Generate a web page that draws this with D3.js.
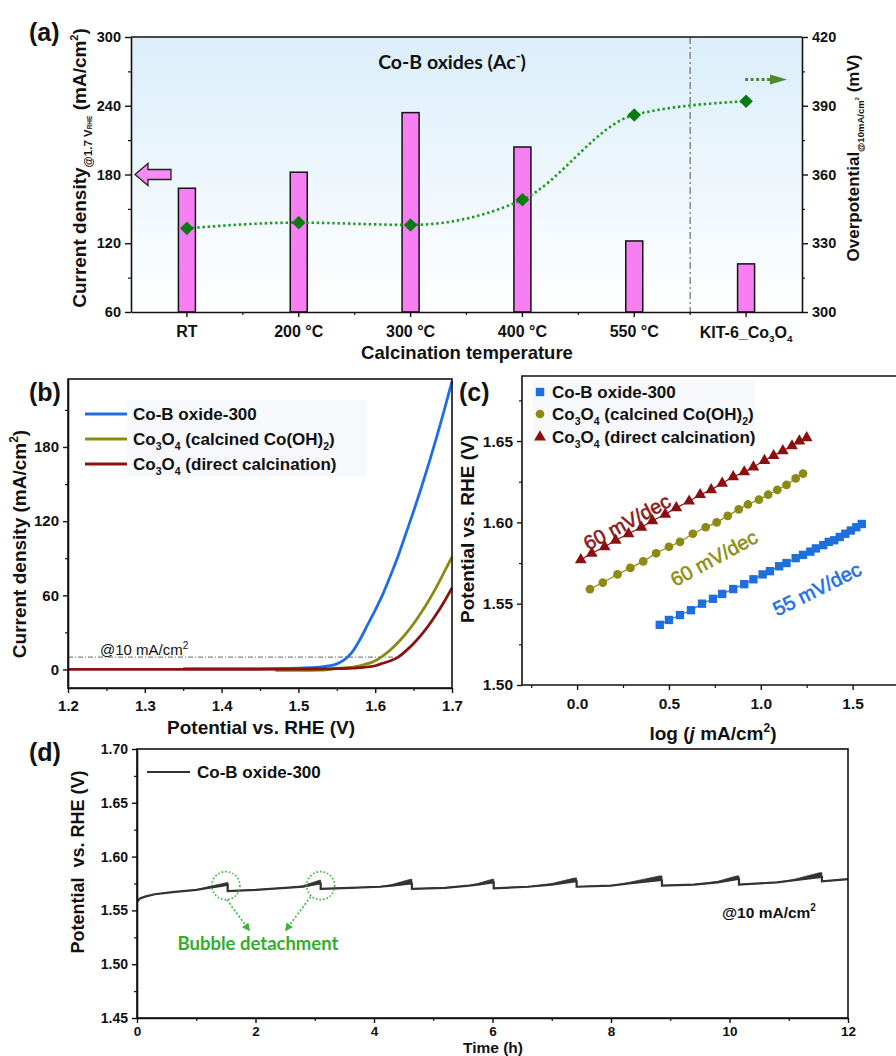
<!DOCTYPE html>
<html>
<head>
<meta charset="utf-8">
<script src="https://cdn.jsdelivr.net/npm/d3@7"></script>
<style>
  body { margin: 0; background: #fff; }
  svg text { font-family: "Liberation Sans", Arial, sans-serif; font-weight: bold; fill: #111; }
</style>
</head>
<body>
<svg id="fig" width="896" height="1056"></svg>
<script>
// ---- (a) calcination series
const calcCats = ["RT", "200 °C", "300 °C", "400 °C", "550 °C", "KIT-6_Co3O4"];
const currentAt17V = [168, 182, 234, 204, 122, 102];
const overpotential = [336.5, 339, 338, 349, 386, 392];
const leftTicksA = [60, 120, 180, 240, 300];
const rightTicksA = [300, 330, 360, 390, 420];

// ---- (b) LSV curves
const lsvBluePot = [1.35, 1.45, 1.50, 1.53, 1.55, 1.56, 1.57, 1.58, 1.59, 1.60, 1.61, 1.62, 1.63, 1.64, 1.65, 1.66, 1.67, 1.68, 1.69, 1.70];
const lsvBlueCur = [0.6, 0.7, 1.0, 2, 4.5, 8, 14, 24, 36, 48, 61, 76, 92, 110, 128, 147, 167, 188, 210, 233];
const lsvOlivePot = [1.47, 1.50, 1.53, 1.55, 1.58, 1.60, 1.61, 1.62, 1.63, 1.64, 1.65, 1.66, 1.67, 1.68, 1.69, 1.70];
const lsvOliveCur = [-0.8, -0.8, -0.5, 0.8, 3, 7, 11, 16, 22, 29, 37, 46, 56, 67, 79, 91];
const lsvRedPot = [1.20, 1.30, 1.40, 1.50, 1.55, 1.58, 1.60, 1.61, 1.62, 1.63, 1.64, 1.65, 1.66, 1.67, 1.68, 1.69, 1.70];
const lsvRedCur = [0, 0, 0, 0.3, 0.6, 1.5, 3, 5, 7, 10, 15, 21, 28, 36, 45, 55, 66];

// ---- (c) Tafel points
const tafBlueX = [0.45, 0.50, 0.56, 0.62, 0.68, 0.74, 0.79, 0.85, 0.91, 0.96, 1.01, 1.05, 1.10, 1.14, 1.19, 1.23, 1.27, 1.30, 1.34, 1.37, 1.40, 1.43, 1.46, 1.49, 1.52, 1.55];
const tafBlueY = [1.537, 1.540, 1.543, 1.546, 1.550, 1.553, 1.556, 1.559, 1.562, 1.565, 1.568, 1.570, 1.573, 1.575, 1.578, 1.580, 1.582, 1.584, 1.586, 1.588, 1.589, 1.591, 1.593, 1.595, 1.597, 1.599];
const tafOliveX = [0.07, 0.14, 0.22, 0.29, 0.36, 0.43, 0.50, 0.56, 0.63, 0.70, 0.76, 0.82, 0.88, 0.93, 0.99, 1.04, 1.09, 1.14, 1.19, 1.23];
const tafOliveY = [1.559, 1.563, 1.568, 1.572, 1.576, 1.581, 1.585, 1.588, 1.593, 1.597, 1.600, 1.604, 1.608, 1.611, 1.614, 1.617, 1.620, 1.623, 1.627, 1.630];
const tafRedX = [0.02, 0.08, 0.15, 0.21, 0.28, 0.35, 0.41, 0.48, 0.54, 0.61, 0.67, 0.73, 0.79, 0.85, 0.91, 0.96, 1.02, 1.07, 1.12, 1.17, 1.21, 1.25];
const tafRedY = [1.577, 1.581, 1.585, 1.589, 1.593, 1.597, 1.601, 1.605, 1.609, 1.613, 1.617, 1.620, 1.624, 1.628, 1.631, 1.634, 1.638, 1.641, 1.644, 1.647, 1.650, 1.652];

// ---- (d) chronopotentiometry
const stabT = [0, 0.05, 0.15, 0.3, 0.6, 1.0, 1.2, 1.45, 1.53, 1.53, 2.0, 2.5, 2.8, 3.08, 3.10, 3.10, 3.6, 4.1, 4.3, 4.62, 4.64, 4.64, 5.2, 5.6, 5.75, 6.0, 6.02, 6.02, 6.6, 7.0, 7.38, 7.42, 7.42, 8.0, 8.3, 8.82, 8.86, 8.86, 9.4, 9.8, 10.12, 10.16, 10.16, 10.8, 11.1, 11.52, 11.56, 11.56, 12.0];
const stabV = [1.558, 1.561, 1.563, 1.565, 1.567, 1.569, 1.571, 1.573, 1.574, 1.568, 1.569, 1.571, 1.572, 1.575, 1.575, 1.570, 1.571, 1.572, 1.573, 1.575, 1.575, 1.570, 1.571, 1.573, 1.574, 1.576, 1.576, 1.5705, 1.572, 1.574, 1.577, 1.577, 1.572, 1.573, 1.575, 1.578, 1.578, 1.573, 1.574, 1.576, 1.579, 1.579, 1.574, 1.576, 1.578, 1.581, 1.581, 1.577, 1.579];
const stabNoise = [0, 0, 0, 0, 0, 0, 0.001, 0.002, 0.002, 0, 0, 0, 0.001, 0.003, 0.003, 0, 0, 0, 0.001, 0.004, 0.004, 0, 0, 0, 0.001, 0.003, 0.003, 0, 0, 0.001, 0.003, 0.003, 0, 0, 0.001, 0.004, 0.004, 0, 0, 0.001, 0.003, 0.003, 0, 0, 0.001, 0.004, 0.004, 0, 0];

const svg = d3.select('#fig');
const defs = svg.append('defs');

// text with sub/superscripts: parts = [text, kind, size, offset]
function rich(t, parts, base) {
  let shift = 0;
  parts.forEach(p => {
    const [s, kind, size, off] = p;
    let target = kind === 'sub' ? base * 0.3 : kind === 'sup' ? -base * 0.42 : 0;
    if (off !== undefined) target = off;
    const fs = size || ((kind === 'sub' || kind === 'sup') ? base * 0.62 : base);
    t.append('tspan')
      .attr('dy', target - shift)
      .style('font-size', fs + 'px')
      .style('font-style', kind === 'it' ? 'italic' : null)
      .text(s);
    shift = target;
  });
  return t;
}

function styleAxis(g, fs) {
  g.select('.domain').attr('stroke', '#111').attr('stroke-width', 1.6);
  g.selectAll('.tick line').attr('stroke', '#111').attr('stroke-width', 1.4);
  g.selectAll('.tick text').style('font-size', fs + 'px').attr('fill', '#111');
}
function minor(g, axisFn, scale, vals, size) {
  const m = g.append('g').call(axisFn(scale).tickValues(vals).tickSize(size).tickFormat(''));
  m.select('.domain').remove();
  m.selectAll('.tick line').attr('stroke', '#111').attr('stroke-width', 1.2);
  return m;
}
function panelLabel(x, y, s) {
  svg.append('text').attr('x', x).attr('y', y).style('font-size', '25px').text(s);
}

// ================= (a) =================
const A = { l: 131, r: 802, t: 37, b: 312 };
const xa = d3.scaleBand().domain(calcCats).range([A.l, A.r]);
const yaL = d3.scaleLinear().domain([60, 300]).range([A.b, A.t]);
const yaR = d3.scaleLinear().domain([300, 420]).range([A.b, A.t]);
const cx = c => xa(c) + xa.bandwidth() / 2;

const grad = defs.append('linearGradient').attr('id', 'bgA')
  .attr('x1', 0).attr('x2', 0).attr('y1', 0).attr('y2', 1);
grad.append('stop').attr('offset', '0%').attr('stop-color', '#dbeefa');
grad.append('stop').attr('offset', '100%').attr('stop-color', '#ffffff');

const ga = svg.append('g');
ga.append('rect').attr('x', A.l).attr('y', A.t).attr('width', A.r - A.l).attr('height', A.b - A.t)
  .attr('fill', 'url(#bgA)');

// separator before reference sample
ga.append('line')
  .attr('x1', xa(calcCats[5])).attr('x2', xa(calcCats[5]))
  .attr('y1', A.t).attr('y2', A.b)
  .attr('stroke', '#777').attr('stroke-width', 1.3).attr('stroke-dasharray', '7,3,2,3');

ga.selectAll('.bar').data(calcCats).enter().append('rect')
  .attr('x', c => cx(c) - 8.5)
  .attr('width', 17)
  .attr('y', (c, i) => yaL(currentAt17V[i]))
  .attr('height', (c, i) => A.b - yaL(currentAt17V[i]))
  .attr('fill', '#f77ff3').attr('stroke', '#111').attr('stroke-width', 1.5);

const opLine = d3.line().x((d, i) => cx(calcCats[i])).y(d => yaR(d)).curve(d3.curveMonotoneX);
ga.append('path').datum(overpotential).attr('d', opLine)
  .attr('fill', 'none').attr('stroke', '#1d9a1d').attr('stroke-width', 2.6)
  .attr('stroke-dasharray', '2.4,2.8');
ga.selectAll('.dia').data(overpotential).enter().append('path')
  .attr('d', d3.symbol(d3.symbolSquare, 92))
  .attr('transform', (d, i) => `translate(${cx(calcCats[i])},${yaR(d)}) rotate(45)`)
  .attr('fill', '#0c7a12');

// axes
const axLA = ga.append('g').attr('transform', `translate(${A.l},0)`)
  .call(d3.axisLeft(yaL).tickValues(leftTicksA).tickSize(6).tickPadding(4).tickSizeOuter(0));
styleAxis(axLA, 14.5);
minor(axLA, d3.axisLeft, yaL, [90, 150, 210, 270], 3);

const axRA = ga.append('g').attr('transform', `translate(${A.r},0)`)
  .call(d3.axisRight(yaR).tickValues(rightTicksA).tickSize(6).tickPadding(4).tickSizeOuter(0));
styleAxis(axRA, 14.5);
minor(axRA, d3.axisRight, yaR, [315, 345, 375, 405], 3);

const axBA = ga.append('g').attr('transform', `translate(0,${A.b})`)
  .call(d3.axisBottom(xa).tickSize(5).tickPadding(9).tickSizeOuter(0));
styleAxis(axBA, 16);
axBA.selectAll('.tick text').each(function (d) {
  if (d === calcCats[5]) {
    const el = d3.select(this);
    const y0 = +el.attr('y');
    el.text('').attr('dy', null).attr('y', y0 + 11.5);
    rich(el, [['KIT-6_Co', 'n'], ['3', 'sub'], ['O', 'n'], ['4', 'sub']], 16);
  }
});
ga.selectAll('.mtick').data(d3.range(1, calcCats.length)).enter().append('line')
  .attr('x1', i => A.l + xa.step() * i).attr('x2', i => A.l + xa.step() * i)
  .attr('y1', A.b).attr('y2', A.b + 3).attr('stroke', '#111').attr('stroke-width', 1.2);
ga.append('line').attr('x1', A.l).attr('x2', A.r).attr('y1', A.t).attr('y2', A.t)
  .attr('stroke', '#111').attr('stroke-width', 1.6);

// arrows
const ay = yaL(180);
ga.append('polygon')
  .attr('points', [[0, 0], [13, -11], [13, -5], [36, -5], [36, 5], [13, 5], [13, 11]]
    .map(p => [A.l + 4 + p[0], ay + p[1]].join(',')).join(' '))
  .attr('fill', '#f78bf1').attr('stroke', '#222').attr('stroke-width', 1.3);
const gy = yaR(401.5);
ga.append('line').attr('x1', cx(calcCats[5]) - 1).attr('x2', A.r - 32).attr('y1', gy).attr('y2', gy)
  .attr('stroke', '#4c8a2c').attr('stroke-width', 3).attr('stroke-dasharray', '3,2.5');
ga.append('polygon')
  .attr('points', `${A.r - 32},${gy - 5} ${A.r - 15},${gy} ${A.r - 32},${gy + 5}`)
  .attr('fill', '#4c8a2c');

// texts
rich(ga.append('text').attr('x', 452).attr('y', 69).attr('text-anchor', 'middle')
  .style('font-family', 'Lato, "Open Sans", sans-serif'),
  [['Co-B oxides (Ac', 'n'], ['-', 'sup', 13], [')', 'n']], 19.5);
ga.append('text').attr('x', 467).attr('y', 359).attr('text-anchor', 'middle')
  .style('font-size', '18.5px').text('Calcination temperature');
rich(ga.append('text').attr('transform', 'translate(86,168) rotate(-90)').attr('text-anchor', 'middle'),
  [['Current density', 'n'], ['@1.7 V', 'sub', 11.5], ['RHE', 'sub', 6.5], [' (mA/cm', 'n'], ['2', 'sup', 11], [')', 'n']], 19);
rich(ga.append('text').attr('transform', 'translate(859,158) rotate(-90)').attr('text-anchor', 'middle'),
  [['Overpotential', 'n'], ['@10mA/cm', 'sub', 9.5, 5], ['2', 'sub', 6, 0], [' (mV)', 'n']], 17);
panelLabel(29, 41, '(a)');

// ================= (b) =================
const B = { l: 68, r: 452, t: 379, b: 688 };
const xb = d3.scaleLinear().domain([1.2, 1.7]).range([B.l, B.r]);
const yb = d3.scaleLinear().domain([-15, 235]).range([B.b, B.t]);
const gb = svg.append('g');
defs.append('clipPath').attr('id', 'clipB').append('rect')
  .attr('x', B.l).attr('y', B.t - 2).attr('width', B.r - B.l + 2).attr('height', B.b - B.t + 2);

gb.append('rect').attr('x', 127).attr('y', 400).attr('width', 240).attr('height', 76).attr('fill', '#f6f8fb');

gb.append('line').attr('x1', xb(1.2)).attr('x2', xb(1.632)).attr('y1', yb(10)).attr('y2', yb(10))
  .attr('stroke', '#666').attr('stroke-width', 1).attr('stroke-dasharray', '5,2,1,2');
rich(gb.append('text').attr('x', 100).attr('y', 655).style('font-weight', 'normal').attr('fill', '#333'),
  [['@10 mA/cm', 'n'], ['2', 'sup', 10]], 15);

const lsv = [
  { pot: lsvBluePot, cur: lsvBlueCur, color: '#1f6fe0', name: [['Co-B oxide-300', 'n']] },
  { pot: lsvOlivePot, cur: lsvOliveCur, color: '#8a8a12', name: [['Co', 'n'], ['3', 'sub'], ['O', 'n'], ['4', 'sub'], [' (calcined Co(OH)', 'n'], ['2', 'sub'], [')', 'n']] },
  { pot: lsvRedPot, cur: lsvRedCur, color: '#8b1212', name: [['Co', 'n'], ['3', 'sub'], ['O', 'n'], ['4', 'sub'], [' (direct calcination)', 'n']] }
];
const lsvLine = d3.line().x(d => xb(d[0])).y(d => yb(d[1])).curve(d3.curveMonotoneX);
lsv.forEach((s, k) => {
  gb.append('path').datum(s.pot.map((p, i) => [p, s.cur[i]]))
    .attr('d', lsvLine).attr('clip-path', 'url(#clipB)')
    .attr('fill', 'none').attr('stroke', s.color).attr('stroke-width', 2.8);
  const ly = 414 + k * 25;
  gb.append('line').attr('x1', 85).attr('x2', 127).attr('y1', ly).attr('y2', ly)
    .attr('stroke', s.color).attr('stroke-width', 3);
  rich(gb.append('text').attr('x', 133).attr('y', ly + 6), s.name, 17);
});

gb.append('rect').attr('x', B.l).attr('y', B.t).attr('width', B.r - B.l).attr('height', B.b - B.t)
  .attr('fill', 'none').attr('stroke', '#111').attr('stroke-width', 1.6);
const axLB = gb.append('g').attr('transform', `translate(${B.l},0)`)
  .call(d3.axisLeft(yb).tickValues([0, 60, 120, 180]).tickSize(5).tickPadding(4).tickSizeOuter(0));
styleAxis(axLB, 15);
minor(axLB, d3.axisLeft, yb, [30, 90, 150, 210], 3);
const axBB = gb.append('g').attr('transform', `translate(0,${B.b})`)
  .call(d3.axisBottom(xb).tickValues([1.2, 1.3, 1.4, 1.5, 1.6, 1.7]).tickFormat(d3.format('.1f'))
    .tickSize(5).tickPadding(7).tickSizeOuter(0));
styleAxis(axBB, 15);
minor(axBB, d3.axisBottom, xb, [1.25, 1.35, 1.45, 1.55, 1.65], 3);
gb.append('text').attr('x', 261).attr('y', 734).attr('text-anchor', 'middle')
  .style('font-size', '19px').text('Potential vs. RHE (V)');
rich(gb.append('text').attr('transform', 'translate(26,544) rotate(-90)').attr('text-anchor', 'middle'),
  [['Current density (mA/cm', 'n'], ['2', 'sup', 12], [')', 'n']], 19);
panelLabel(29, 401, '(b)');

// ================= (c) =================
const C = { l: 522, r: 900, t: 376, b: 685 };
const xc = d3.scaleLinear().domain([-0.3, 1.758]).range([C.l, C.r]);
const yc = d3.scaleLinear().domain([1.5, 1.69]).range([C.b, C.t]);
const gc = svg.append('g');

gc.append('rect').attr('x', 533).attr('y', 380).attr('width', 222).attr('height', 65).attr('fill', '#f6f8fb');

const taf = [
  { x: tafBlueX, y: tafBlueY, color: '#1e6fdc', sym: d3.symbolSquare, size: 70, label: '55 mV/dec', lc: '#1f6fe6', lx: 817, ly: 589,
    name: [['Co-B oxide-300', 'n']] },
  { x: tafOliveX, y: tafOliveY, color: '#8c8a12', sym: d3.symbolCircle, size: 60, label: '60 mV/dec', lc: '#8f8f13', lx: 714, ly: 558,
    name: [['Co', 'n'], ['3', 'sub'], ['O', 'n'], ['4', 'sub'], [' (calcined Co(OH)', 'n'], ['2', 'sub'], [')', 'n']] },
  { x: tafRedX, y: tafRedY, color: '#8b0f0f', sym: d3.symbolTriangle, size: 60, label: '60 mV/dec', lc: '#8b1a1a', lx: 627, ly: 522,
    name: [['Co', 'n'], ['3', 'sub'], ['O', 'n'], ['4', 'sub'], [' (direct calcination)', 'n']] }
];
const legY = [392, 414, 437];
taf.forEach((s, k) => {
  const pts = s.x.map((v, i) => [v, s.y[i]]);
  gc.append('path').datum(pts).attr('d', d3.line().x(d => xc(d[0])).y(d => yc(d[1])))
    .attr('fill', 'none').attr('stroke', s.color).attr('stroke-width', 1.2);
  gc.selectAll(null).data(pts).enter().append('path')
    .attr('d', d3.symbol(s.sym, s.size))
    .attr('transform', d => `translate(${xc(d[0])},${yc(d[1])})`)
    .attr('fill', s.color);
  const n = pts.length - 1;
  const ang = Math.atan2(yc(pts[n][1]) - yc(pts[0][1]), xc(pts[n][0]) - xc(pts[0][0])) * 180 / Math.PI;
  gc.append('text').attr('transform', `translate(${s.lx},${s.ly}) rotate(${ang})`)
    .attr('text-anchor', 'middle').attr('dy', '0.35em')
    .style('font-size', '20px').style('font-weight', 'normal').style('fill', s.lc)
    .style('stroke', s.lc).style('stroke-width', 0.6)
    .text(s.label);
  gc.append('path').attr('d', d3.symbol(s.sym, s.size))
    .attr('transform', `translate(540,${legY[k]})`).attr('fill', s.color);
  rich(gc.append('text').attr('x', 552).attr('y', legY[k] + 6), s.name, 17);
});

gc.append('path').attr('d', `M${C.r},${C.t}H${C.l}V${C.b}H${C.r}`)
  .attr('fill', 'none').attr('stroke', '#111').attr('stroke-width', 1.6);
const axLC = gc.append('g').attr('transform', `translate(${C.l},0)`)
  .call(d3.axisLeft(yc).tickValues([1.50, 1.55, 1.60, 1.65]).tickFormat(d3.format('.2f'))
    .tickSize(5).tickPadding(4).tickSizeOuter(0));
styleAxis(axLC, 15.5);
axLC.select('.domain').remove();
minor(axLC, d3.axisLeft, yc, [1.525, 1.575, 1.625, 1.675], 3);
const axBC = gc.append('g').attr('transform', `translate(0,${C.b})`)
  .call(d3.axisBottom(xc).tickValues([0, 0.5, 1.0, 1.5]).tickFormat(d3.format('.1f'))
    .tickSize(5).tickPadding(8).tickSizeOuter(0));
styleAxis(axBC, 15.5);
axBC.select('.domain').remove();
minor(axBC, d3.axisBottom, xc, [-0.25, 0.25, 0.75, 1.25], 3);
rich(gc.append('text').attr('x', 713).attr('y', 740).attr('text-anchor', 'middle'),
  [['log (', 'n'], ['j', 'it'], [' mA/cm', 'n'], ['2', 'sup', 12], [')', 'n']], 19);
rich(gc.append('text').attr('transform', 'translate(474,529) rotate(-90)').attr('text-anchor', 'middle'),
  [['Potential vs. RHE (V)', 'n']], 19);
panelLabel(459, 401, '(c)');

// ================= (d) =================
const D = { l: 137, r: 848, t: 749, b: 1018 };
const xd = d3.scaleLinear().domain([0, 12]).range([D.l, D.r]);
const yd = d3.scaleLinear().domain([1.45, 1.70]).range([D.b, D.t]);
const gd = svg.append('g');

const stab = stabT.map((t, i) => ({ t: t, v: stabV[i], hi: stabV[i] + stabNoise[i] }));
gd.append('path').datum(stab)
  .attr('d', d3.area().x(d => xd(d.t)).y0(d => yd(d.v)).y1(d => yd(d.hi)))
  .attr('fill', '#333').attr('stroke', '#333').attr('stroke-width', 0.8);
gd.append('path').datum(stab)
  .attr('d', d3.line().x(d => xd(d.t)).y(d => yd(d.v)))
  .attr('fill', 'none').attr('stroke', '#333').attr('stroke-width', 2.2);

// bubble detachment annotations
const bubbles = [[1.5, 1.573], [3.1, 1.573]];
defs.append('marker').attr('id', 'gArrow').attr('viewBox', '0 0 10 10').attr('refX', 8).attr('refY', 5)
  .attr('markerWidth', 5).attr('markerHeight', 5).attr('orient', 'auto')
  .append('path').attr('d', 'M0,0L10,5L0,10Z').attr('fill', '#3cb43c');
bubbles.forEach((b, k) => {
  const bx = xd(b[0]), by = yd(b[1]);
  gd.append('circle').attr('cx', bx).attr('cy', by).attr('r', 14)
    .attr('fill', 'none').attr('stroke', '#3cb43c').attr('stroke-width', 1.6).attr('stroke-dasharray', '1.6,2');
  const x0 = k === 0 ? bx + 1 : bx - 10, y0 = by + (k === 0 ? 14 : 11);
  const x1 = k === 0 ? 249 : 286, y1 = 930;
  gd.append('line').attr('x1', x0).attr('y1', y0).attr('x2', x1).attr('y2', y1)
    .attr('stroke', '#3cb43c').attr('stroke-width', 1.6).attr('stroke-dasharray', '2,2')
    .attr('marker-end', 'url(#gArrow)');
});
gd.append('text').attr('x', 258).attr('y', 950).attr('text-anchor', 'middle')
  .style('font-family', 'Lato, "Open Sans", sans-serif').style('font-size', '18.5px').style('fill', '#33ad2c')
  .text('Bubble detachment');

gd.append('line').attr('x1', 147).attr('x2', 190).attr('y1', 772).attr('y2', 772)
  .attr('stroke', '#333').attr('stroke-width', 2.2);
gd.append('text').attr('x', 197).attr('y', 778).style('font-size', '17px').text('Co-B oxide-300');
rich(gd.append('text').attr('x', 722).attr('y', 918), [['@10 mA/cm', 'n'], ['2', 'sup', 10]], 15.5);

gd.append('rect').attr('x', D.l).attr('y', D.t).attr('width', D.r - D.l).attr('height', D.b - D.t)
  .attr('fill', 'none').attr('stroke', '#111').attr('stroke-width', 1.6);
const axLD = gd.append('g').attr('transform', `translate(${D.l},0)`)
  .call(d3.axisLeft(yd).tickValues([1.45, 1.50, 1.55, 1.60, 1.65, 1.70]).tickFormat(d3.format('.2f'))
    .tickSize(5).tickPadding(4).tickSizeOuter(0));
styleAxis(axLD, 14);
minor(axLD, d3.axisLeft, yd, [1.475, 1.525, 1.575, 1.625, 1.675], 3);
const axBD = gd.append('g').attr('transform', `translate(0,${D.b})`)
  .call(d3.axisBottom(xd).tickValues([0, 2, 4, 6, 8, 10, 12]).tickSize(5).tickPadding(3).tickSizeOuter(0));
styleAxis(axBD, 13.5);
minor(axBD, d3.axisBottom, xd, [1, 3, 5, 7, 9, 11], 3);
gd.append('text').attr('x', 493).attr('y', 1053).attr('text-anchor', 'middle')
  .style('font-size', '15.5px').text('Time (h)');
gd.append('text').attr('transform', 'translate(84,862) rotate(-90)').attr('text-anchor', 'middle')
  .style('font-size', '18px').style('white-space', 'pre').text('Potential  vs. RHE (V)');
panelLabel(29, 761, '(d)');
</script>
</body>
</html>
